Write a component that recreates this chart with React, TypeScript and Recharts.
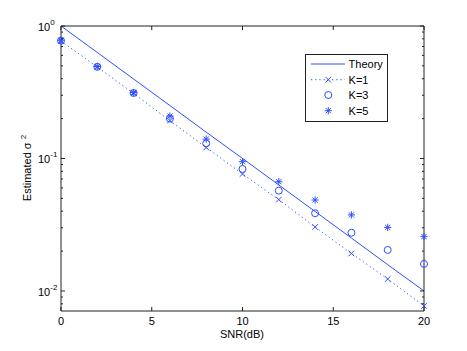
import React from 'react';
import { ComposedChart, Line, XAxis, YAxis } from 'recharts';

const snr = [0, 2, 4, 6, 8, 10, 12, 14, 16, 18, 20];
const theory = [1, 0.631, 0.398, 0.251, 0.158, 0.1, 0.0631, 0.0398, 0.0251, 0.0158, 0.01];
const k1 = [0.77, 0.49, 0.31, 0.193, 0.121, 0.0764, 0.0489, 0.0304, 0.0192, 0.0123, 0.0077];
const k3 = [0.775, 0.492, 0.312, 0.2, 0.13, 0.0833, 0.0572, 0.0386, 0.0275, 0.0204, 0.016];
const k5 = [0.78, 0.495, 0.315, 0.209, 0.14, 0.0946, 0.0668, 0.0486, 0.0375, 0.0302, 0.0257];

const xTicks = [0, 5, 10, 15, 20];
const yMajor = [0.01, 0.1, 1];
const yMajorExp = ['-2', '-1', '0'];
const yMinor = [0.008, 0.009, 0.02, 0.03, 0.04, 0.05, 0.06, 0.07, 0.08, 0.09, 0.2, 0.3, 0.4, 0.5, 0.6, 0.7, 0.8, 0.9];
const yAll = [...yMinor, ...yMajor].sort((a, b) => a - b);

const legendNames = ['Theory', 'K=1', 'K=3', 'K=5'];

const data = snr.map((s, i) => ({ snr: s, theory: theory[i], k1: k1[i], k3: k3[i], k5: k5[i] }));

const BLUE = '#2f4fff';
const FONT = '"Liberation Sans", Arial, Helvetica, sans-serif';
const AXC = '#222';

const XMark = ({ cx, cy, r = 3 }: any) => (
  <g stroke={BLUE} strokeWidth={1}>
    <line x1={cx - r} y1={cy - r} x2={cx + r} y2={cy + r} />
    <line x1={cx - r} y1={cy + r} x2={cx + r} y2={cy - r} />
  </g>
);
const OMark = ({ cx, cy }: any) => <circle cx={cx} cy={cy} r={3.5} fill="none" stroke={BLUE} strokeWidth={1} />;
const StarMark = ({ cx, cy }: any) => {
  const r = 3.6;
  const d = r * 0.72;
  return (
    <g stroke={BLUE} strokeWidth={1}>
      <line x1={cx - r} y1={cy} x2={cx + r} y2={cy} />
      <line x1={cx} y1={cy - r} x2={cx} y2={cy + r} />
      <line x1={cx - d} y1={cy - d} x2={cx + d} y2={cy + d} />
      <line x1={cx - d} y1={cy + d} x2={cx + d} y2={cy - d} />
    </g>
  );
};

const isMajor = (v: number) => yMajor.some((m) => Math.abs(m - v) < 1e-9);

const LeftTick = (props: any) => {
  const { x, y, payload } = props;
  const v = payload.value;
  const major = isMajor(v);
  const idx = yMajor.findIndex((m) => Math.abs(m - v) < 1e-9);
  return (
    <g>
      <line x1={x} x2={x + (major ? 4 : 2)} y1={y} y2={y} stroke={AXC} strokeWidth={1} />
      {major && (
        <text x={x - 23} y={y + 5} fontSize={11} fontFamily={FONT} fill="#000">
          10
          <tspan dy={-6} fontSize={8}>{yMajorExp[idx]}</tspan>
        </text>
      )}
    </g>
  );
};
const RightTick = (props: any) => {
  const { x, y, payload } = props;
  const major = isMajor(payload.value);
  return <line x1={x} x2={x - (major ? 4 : 2)} y1={y} y2={y} stroke={AXC} strokeWidth={1} />;
};
const BottomTick = (props: any) => {
  const { x, y, payload } = props;
  return (
    <g>
      <line x1={x} x2={x} y1={y} y2={y - 4} stroke={AXC} strokeWidth={1} />
      <text x={x} y={y + 14} textAnchor="middle" fontSize={11} fontFamily={FONT} fill="#000">
        {payload.value}
      </text>
    </g>
  );
};
const TopTick = (props: any) => {
  const { x, y } = props;
  return <line x1={x} x2={x} y1={y} y2={y + 4} stroke={AXC} strokeWidth={1} />;
};

const LegendBox = () => {
  const rows = [10, 25.7, 41, 56.7];
  return (
    <svg width={84} height={69} style={{ display: 'block' }}>
      <rect x={0.5} y={0.5} width={82} height={67} fill="#fff" stroke={AXC} strokeWidth={1} />
      <line x1={6} x2={40} y1={rows[0]} y2={rows[0]} stroke={BLUE} strokeWidth={1} />
      <line x1={6} x2={40} y1={rows[1]} y2={rows[1]} stroke={BLUE} strokeWidth={1} strokeDasharray="1.2 3" />
      <XMark cx={23.3} cy={rows[1]} r={2.8} />
      <OMark cx={23.3} cy={rows[2]} />
      <StarMark cx={23.3} cy={rows[3]} />
      {legendNames.map((n, i) => (
        <text key={n} x={43.6} y={rows[i] + 4} fontSize={11} fontFamily={FONT} fill="#000">
          {n}
        </text>
      ))}
    </svg>
  );
};

export default function App() {
  return (
    <div style={{ position: 'absolute', left: 0, top: 0, width: 467, height: 351, background: '#fff' }}>
      <ComposedChart width={467} height={351} data={data} margin={{ top: 21, right: 33, bottom: 10, left: 21 }}>
        <XAxis
          xAxisId="b"
          dataKey="snr"
          type="number"
          domain={[0, 20]}
          ticks={xTicks}
          orientation="bottom"
          height={30}
          tickSize={0}
          tickMargin={0}
          tickLine={false}
          tick={<BottomTick />}
          axisLine={{ stroke: AXC, strokeWidth: 1 }}
          label={{
            content: () => (
              <text x={242} y={338} textAnchor="middle" fontSize={11} fontFamily={FONT} fill="#000">
                SNR(dB)
              </text>
            ),
          }}
        />
        <XAxis
          xAxisId="t"
          dataKey="snr"
          type="number"
          domain={[0, 20]}
          ticks={xTicks}
          orientation="top"
          height={5}
          tickSize={0}
          tickMargin={0}
          tickLine={false}
          tick={<TopTick />}
          axisLine={{ stroke: AXC, strokeWidth: 1 }}
        />
        <YAxis
          yAxisId="l"
          scale="log"
          type="number"
          domain={[0.00706, 1]}
          allowDataOverflow
          ticks={yAll}
          interval={0}
          width={40}
          tickSize={0}
          tickMargin={0}
          tickLine={false}
          tick={<LeftTick />}
          axisLine={{ stroke: AXC, strokeWidth: 1 }}
          label={{
            content: () => (
              <text
                x={31}
                y={168}
                textAnchor="middle"
                fontSize={11}
                fontFamily={FONT}
                fill="#000"
                transform="rotate(-90 31 168)"
              >
                Estimated σ <tspan dy={-5} fontSize={8}>2</tspan>
              </text>
            ),
          }}
        />
        <YAxis
          yAxisId="r"
          orientation="right"
          scale="log"
          type="number"
          domain={[0.00706, 1]}
          allowDataOverflow
          ticks={yAll}
          interval={0}
          width={10}
          tickSize={0}
          tickMargin={0}
          tickLine={false}
          tick={<RightTick />}
          axisLine={{ stroke: AXC, strokeWidth: 1 }}
        />
        <Line xAxisId="b" yAxisId="l" dataKey="theory" stroke={BLUE} strokeWidth={1} dot={false} isAnimationActive={false} />
        <Line
          xAxisId="b"
          yAxisId="l"
          dataKey="k1"
          stroke={BLUE}
          strokeWidth={1}
          strokeDasharray="1.2 3"
          dot={(p: any) => <XMark key={`k1-${p.index}`} cx={p.cx} cy={p.cy} r={2.8} />}
          isAnimationActive={false}
        />
        <Line
          xAxisId="b"
          yAxisId="l"
          dataKey="k3"
          stroke="none"
          dot={(p: any) => <OMark key={`k3-${p.index}`} cx={p.cx} cy={p.cy} />}
          isAnimationActive={false}
        />
        <Line
          xAxisId="b"
          yAxisId="l"
          dataKey="k5"
          stroke="none"
          dot={(p: any) => <StarMark key={`k5-${p.index}`} cx={p.cx} cy={p.cy} />}
          isAnimationActive={false}
        />
      </ComposedChart>
      <div style={{ position: 'absolute', left: 305, top: 54 }}>
        <LegendBox />
      </div>
    </div>
  );
}
